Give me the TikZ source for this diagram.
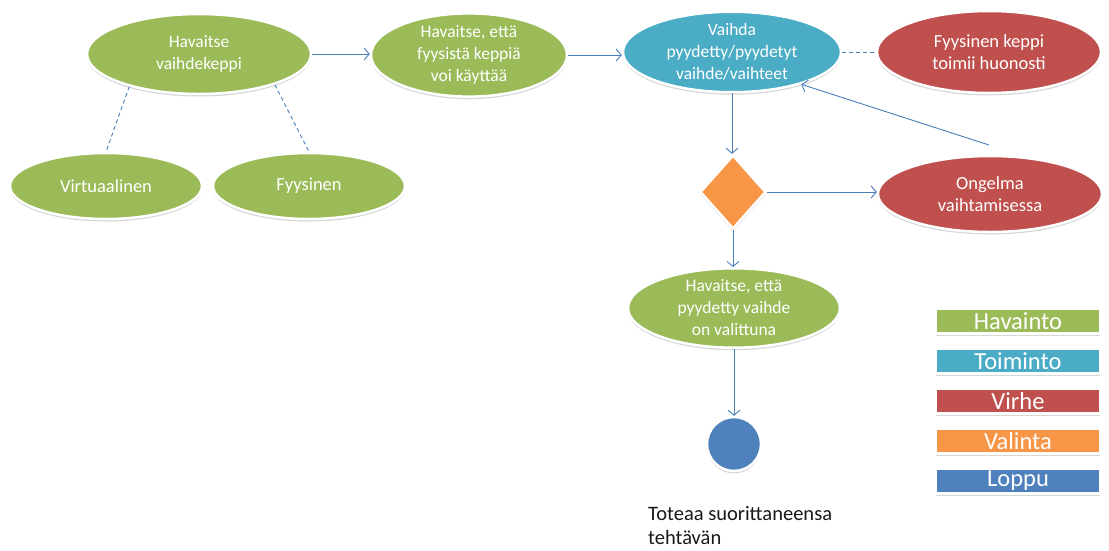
\documentclass[tikz,border=0pt]{standalone}
\usepackage{fontspec}
\setmainfont{Carlito}
\usetikzlibrary{shapes.geometric,shadows,arrows.meta}
\definecolor{cgreen}{HTML}{9BBB59}
\definecolor{cblue}{HTML}{4BACC6}
\definecolor{cred}{HTML}{C0504D}
\definecolor{corange}{HTML}{F79646}
\definecolor{cdark}{HTML}{4F81BD}
\definecolor{cline}{HTML}{4A7EBB}
\begin{document}
\begin{tikzpicture}[x=1pt,y=-1pt,
 shp/.style={draw=white, line width=2.5pt, inner sep=0pt, text=white, align=center,
   font=\fontsize{17.5}{22}\selectfont,
   drop shadow={shadow xshift=0pt, shadow yshift=-2.5pt, opacity=0.22, fill=black!70}},
 ell/.style={shp, ellipse},
 arr/.style={draw=cline, line width=0.9pt, -{Straight Barb[length=5pt,width=12pt,line width=0.9pt]}},
 dsh/.style={draw=cline, line width=0.9pt, dash pattern=on 4pt off 3pt},
 leg/.style={shp, rectangle, minimum width=164pt, minimum height=25pt, font=\fontsize{24.5}{24.5}\selectfont}
]
\useasboundingbox[fill=white] (0,0) rectangle (1109,550);

% ellipses
\node[ell, fill=cgreen, minimum width=224pt, minimum height=80pt] (e1) at (199,54) {Havaitse\\vaihdekeppi};
\node[ell, fill=cgreen, minimum width=196pt, minimum height=80pt] (e2) at (469,55) {Havaitse, että\\fyysistä keppiä\\voi käyttää};
\node[ell, fill=cblue, minimum width=218pt, minimum height=80pt] (e3) at (732,52) {Vaihda\\pyydetty/pyydetyt\\vaihde/vaihteet};
\node[ell, fill=cred, minimum width=224pt, minimum height=82pt, font=\fontsize{18.5}{22}\selectfont] (e4) at (989,52) {Fyysinen keppi\\toimii huonosti};
\node[shp, diamond, fill=corange, minimum width=66pt, minimum height=74pt] (dm) at (733,192) {};
\node[ell, fill=cred, minimum width=224pt, minimum height=76pt, font=\fontsize{18.5}{22}\selectfont] (e6) at (990,194) {Ongelma\\vaihtamisessa};
\node[ell, fill=cgreen, minimum width=192pt, minimum height=66pt, font=\fontsize{18.5}{22}\selectfont] (v) at (106,186) {Virtuaalinen};
\node[ell, fill=cgreen, minimum width=192pt, minimum height=66pt, font=\fontsize{18.5}{22}\selectfont] (f) at (309,186) {Fyysinen};
\node[ell, fill=cgreen, minimum width=212pt, minimum height=78pt] (e9) at (734,308) {Havaitse, että\\pyydetty vaihde\\on valittuna};
\node[shp, circle, fill=cdark, minimum size=54pt] (c) at (734,444) {};

% connectors
\draw[arr] (e1.east) -- (e1.east -| e2.west);
\draw[arr] (e2.east) -- (e2.east -| e3.west);
\draw[arr] (e3.south) -- (e3.south |- dm.north);
\draw[arr] (dm.east) -- (dm.east -| e6.west);
\coordinate (e6top) at (989,145);
\draw[arr] (e6top) -- (e3.335);
\draw[arr] (dm.south) -- (dm.south |- e9.north);
\draw[arr] (e9.south) -- (c.north);
\draw[dsh] (e1.205) -- (v.north);
\draw[dsh] (e1.338) -- (f.north);
\draw[dsh] (e3.east) -- (e3.east -| e4.west);

% legend
\node[leg, fill=cgreen] (l1) at (1018,321) {Havainto};
\node[leg, fill=cblue] (l2) at (1018,361) {Toiminto};
\node[leg, fill=cred] (l3) at (1018,401) {Virhe};
\node[leg, fill=corange] (l4) at (1018,441) {Valinta};
\node[leg, fill=cdark] (l5) at (1018,481) {Loppu};

% bottom text
\node[anchor=west, align=left, inner sep=0pt, text=black!90, font=\fontsize{20.5}{24}\selectfont] (note) at (648,526) {Toteaa suorittaneensa\\tehtävän};
\end{tikzpicture}
\end{document}
